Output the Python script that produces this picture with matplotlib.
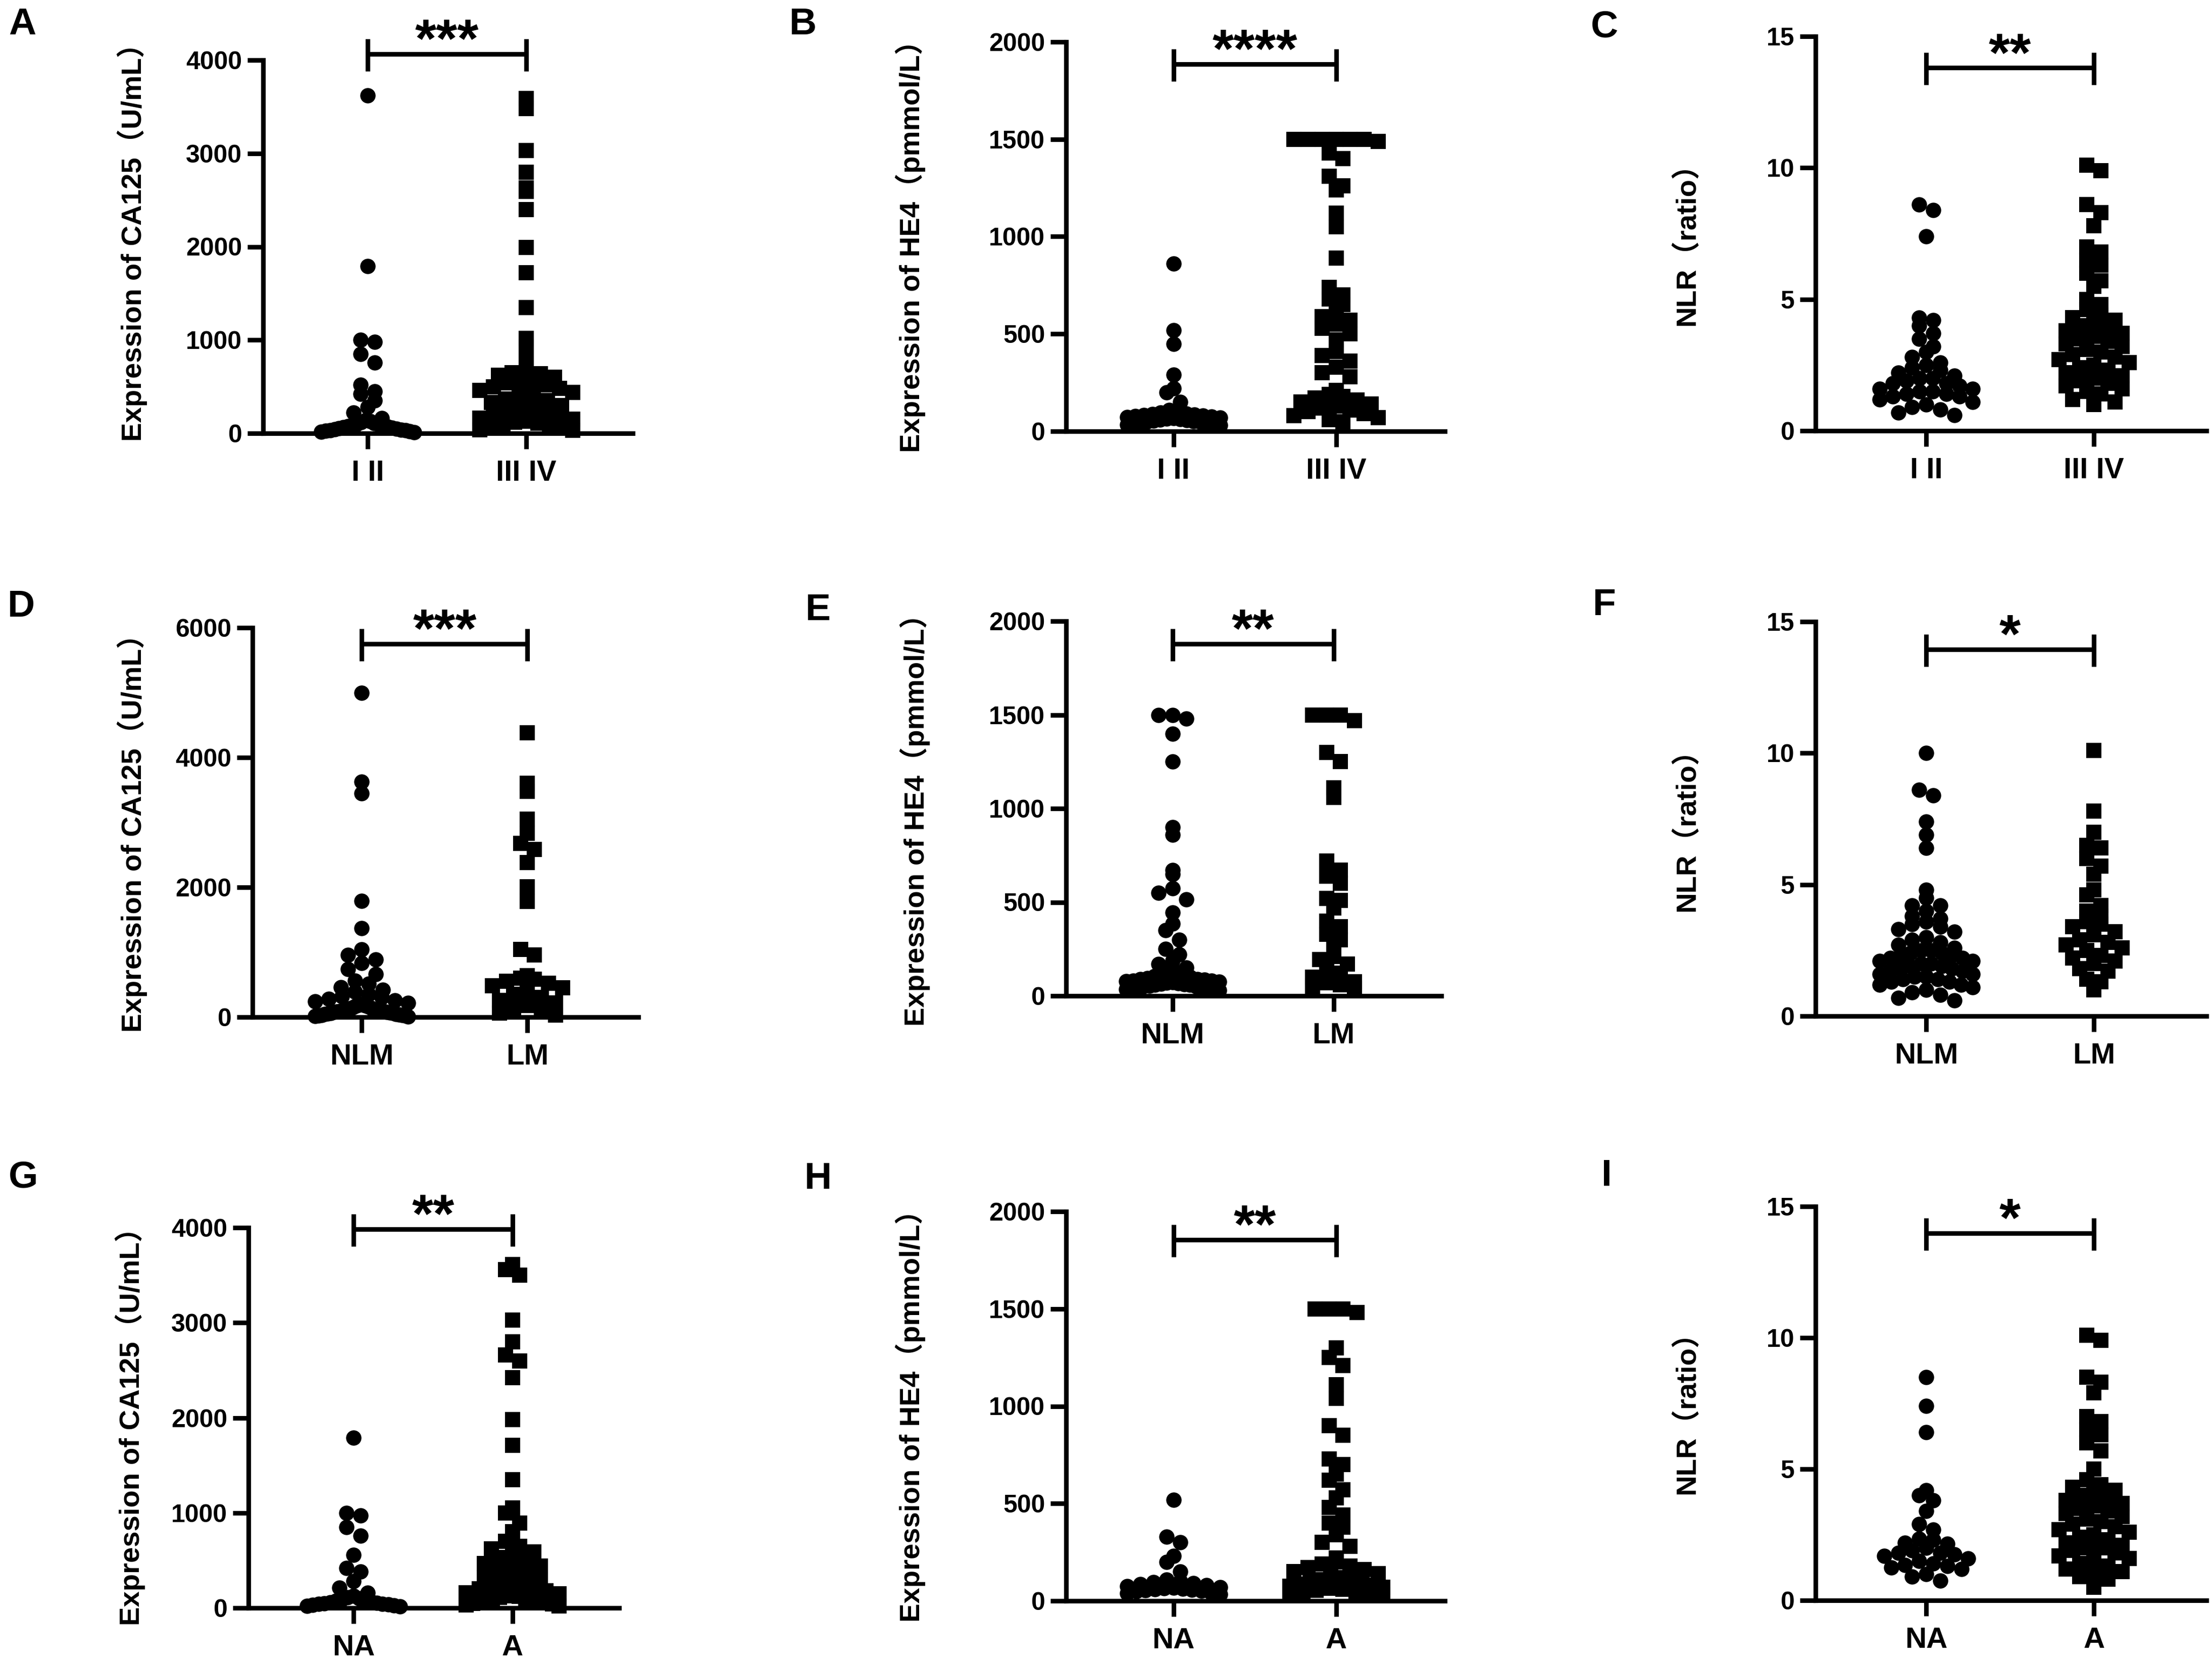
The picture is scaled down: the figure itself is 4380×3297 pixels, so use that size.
import numpy as np
import matplotlib
matplotlib.use('Agg')
import matplotlib.pyplot as plt

plt.rcParams['font.family'] = ['Liberation Sans', 'Noto Sans CJK SC']
plt.rcParams['font.weight'] = 'bold'

# ---- data ----
stage_labels = ['I II', 'III IV']
meta_labels = ['NLM', 'LM']
asc_labels = ['NA', 'A']

A_g1 = [3620, 1790, 1000, 980, 850, 760, 520, 450, 420, 350, 280, 220, 160, 140, 130, 120,
        110, 100, 95, 90, 80, 75, 70, 65, 60, 55, 50, 45, 40, 35, 30, 25, 20, 15, 10]
A_g2 = [3590, 3480, 3030, 2800, 2630, 2590, 2400, 1990, 1720, 1350, 1020, 930, 770, 700, 650,
        640, 620, 600, 580, 560, 540, 520, 500, 480, 460, 440, 420, 400, 370, 350, 330, 300,
        280, 260, 240, 220, 200, 180, 160, 150, 130, 120, 110, 100, 90, 80, 60, 40, 30]

B_g1 = [860, 520, 450, 290, 220, 200, 150, 110, 100, 95, 90, 88, 85, 82, 80, 78, 75, 72, 70,
        68, 65, 62, 60, 58, 55, 52, 50, 48, 45, 42, 40, 38, 35, 30]
B_g2 = [1500, 1500, 1500, 1500, 1500, 1500, 1490, 1430, 1400, 1310, 1260, 1240, 1120, 1050,
        890, 740, 700, 680, 650, 620, 590, 570, 550, 530, 500, 470, 410, 390, 360, 330, 300,
        280, 210, 190, 180, 170, 160, 150, 140, 130, 120, 110, 100, 90, 80, 70, 60, 50]

C_g1 = [8.6, 8.4, 7.4, 4.3, 4.2, 4.0, 3.7, 3.5, 3.2, 3.0, 2.8, 2.6, 2.5, 2.4, 2.3, 2.2, 2.1,
        2.0, 2.0, 1.9, 1.8, 1.8, 1.7, 1.6, 1.6, 1.5, 1.5, 1.4, 1.4, 1.3, 1.3, 1.2, 1.1, 1.0,
        0.9, 0.8, 0.7, 0.6]
C_g2 = [10.1, 9.9, 8.6, 8.3, 7.8, 7.0, 6.8, 6.5, 6.3, 6.0, 5.7, 5.5, 5.0, 4.8, 4.6, 4.4, 4.3,
        4.2, 4.1, 4.0, 3.9, 3.8, 3.7, 3.6, 3.5, 3.4, 3.3, 3.2, 3.1, 3.0, 2.9, 2.8, 2.7, 2.6,
        2.5, 2.4, 2.3, 2.2, 2.1, 2.0, 1.9, 1.8, 1.7, 1.6, 1.5, 1.4, 1.2, 1.1, 1.0]

D_g1 = [5000, 3630, 3450, 1790, 1370, 1040, 960, 890, 830, 740, 660, 560, 510, 460, 420, 390,
        350, 320, 300, 280, 260, 240, 220, 200, 190, 180, 170, 160, 150, 140, 130, 120, 115,
        110, 105, 100, 95, 90, 85, 80, 75, 70, 65, 60, 55, 50, 45, 40, 35, 30, 25, 20, 15, 10]
D_g2 = [4380, 3600, 3480, 3050, 2830, 2680, 2580, 2380, 2010, 1780, 1040, 960, 640, 600, 580,
        550, 520, 480, 450, 400, 350, 300, 260, 220, 180, 140, 100, 60, 30]

E_g1 = [1500, 1500, 1480, 1400, 1250, 900, 860, 670, 650, 575, 550, 515, 445, 385, 350, 300,
        250, 220, 190, 170, 150, 140, 130, 120, 110, 105, 100, 95, 90, 88, 85, 82, 80, 78, 75,
        72, 70, 68, 65, 62, 60, 58, 55, 52, 50, 48, 45, 42, 40, 38, 35, 30]
E_g2 = [1500, 1500, 1500, 1470, 1300, 1250, 1110, 1060, 720, 670, 640, 600, 520, 510, 470,
        400, 370, 330, 300, 290, 210, 195, 170, 130, 120, 100, 75, 70, 60, 50, 40]

F_g1 = [10.0, 8.6, 8.4, 7.4, 6.9, 6.4, 4.8, 4.5, 4.2, 4.2, 4.0, 3.8, 3.7, 3.6, 3.5, 3.4, 3.3,
        3.2, 3.0, 2.9, 2.8, 2.7, 2.6, 2.5, 2.5, 2.4, 2.4, 2.3, 2.3, 2.2, 2.2, 2.1, 2.1, 2.0,
        2.0, 1.9, 1.9, 1.8, 1.8, 1.7, 1.7, 1.6, 1.6, 1.5, 1.5, 1.4, 1.4, 1.3, 1.3, 1.2, 1.2,
        1.1, 1.0, 0.9, 0.8, 0.7, 0.6]
F_g2 = [10.1, 7.8, 7.0, 6.5, 6.4, 6.0, 5.7, 5.4, 4.8, 4.6, 4.2, 4.0, 3.8, 3.6, 3.5, 3.4, 3.2,
        3.1, 2.9, 2.8, 2.7, 2.6, 2.5, 2.3, 2.2, 2.1, 2.0, 1.8, 1.7, 1.4, 1.3, 1.0]

G_g1 = [1790, 1000, 970, 850, 760, 560, 420, 380, 280, 210, 160, 130, 110, 100, 90, 80, 75,
        70, 60, 55, 50, 45, 40, 35, 30, 25, 20, 15]
G_g2 = [3610, 3560, 3500, 3030, 2800, 2660, 2600, 2420, 1980, 1710, 1350, 1050, 1000, 890,
        800, 700, 650, 620, 590, 560, 530, 500, 470, 440, 410, 380, 350, 320, 300, 280, 260,
        240, 220, 200, 180, 160, 150, 140, 130, 120, 110, 100, 95, 90, 85, 80, 70, 60, 50,
        40, 30, 20]

H_g1 = [520, 330, 300, 230, 200, 150, 110, 100, 95, 90, 85, 80, 75, 70, 68, 65, 62, 60, 58,
        55, 52, 50, 45, 40, 35]
H_g2 = [1500, 1500, 1500, 1480, 1300, 1250, 1210, 1110, 1040, 900, 850, 730, 700, 650, 620,
        570, 530, 480, 440, 400, 380, 340, 300, 280, 220, 200, 190, 180, 170, 160, 150, 140,
        130, 120, 110, 100, 95, 90, 85, 80, 75, 70, 65, 60, 55, 50, 45, 40, 35, 30]

I_g1 = [8.5, 7.4, 6.4, 4.2, 4.0, 3.8, 3.4, 2.9, 2.7, 2.35, 2.3, 2.2, 2.15, 2.0, 1.9, 1.8, 1.8,
        1.75, 1.7, 1.6, 1.5, 1.4, 1.35, 1.3, 1.25, 1.2, 1.0, 0.9, 0.75]
I_g2 = [10.1, 9.9, 8.5, 8.3, 7.9, 7.0, 6.8, 6.5, 6.3, 6.0, 5.7, 5.0, 4.6, 4.4, 4.3, 4.2, 4.1,
        4.0, 3.9, 3.8, 3.7, 3.6, 3.5, 3.4, 3.3, 3.2, 3.1, 3.0, 2.9, 2.8, 2.7, 2.6, 2.5, 2.4,
        2.3, 2.2, 2.1, 2.0, 2.0, 1.9, 1.8, 1.7, 1.6, 1.5, 1.4, 1.3, 1.2, 1.1, 1.0, 0.9, 0.8,
        0.5]

ca125_label = 'Expression of CA125（U/mL）'
he4_label = 'Expression of HE4（pmmol/L）'
nlr_label = 'NLR（ratio）'

ca_ticks = [0, 1000, 2000, 3000, 4000]
ca_ticks_d = [0, 2000, 4000, 6000]
he_ticks = [0, 500, 1000, 1500, 2000]
nlr_ticks = [0, 5, 10, 15]

# letter, groups, cats, ylabel, yticks, stars, bracket height (data)
panels = [
    ('A', A_g1, A_g2, stage_labels, ca125_label, ca_ticks, '***', 4065),
    ('B', B_g1, B_g2, stage_labels, he4_label, he_ticks, '****', 1886),
    ('C', C_g1, C_g2, stage_labels, nlr_label, nlr_ticks, '**', 13.8),
    ('D', D_g1, D_g2, meta_labels, ca125_label, ca_ticks_d, '***', 5750),
    ('E', E_g1, E_g2, meta_labels, he4_label, he_ticks, '**', 1880),
    ('F', F_g1, F_g2, meta_labels, nlr_label, nlr_ticks, '*', 13.95),
    ('G', G_g1, G_g2, asc_labels, ca125_label, ca_ticks, '**', 3985),
    ('H', H_g1, H_g2, asc_labels, he4_label, he_ticks, '**', 1855),
    ('I', I_g1, I_g2, asc_labels, nlr_label, nlr_ticks, '*', 13.98),
]

# layout in output pixels: y-axis x, category spacing, top, bottom, letter xy, ylabel xy
layout = [
    (521, 314, 119, 858, (44, 48), (262, 466)),
    (2111, 322, 83, 854, (1590, 48), (1803, 474)),
    (3595, 332, 72, 853, (3177, 54), (3341, 470)),
    (500, 328, 1243, 2014, (42, 1201), (262, 1636)),
    (2111, 319, 1230, 1972, (1620, 1208), (1812, 1610)),
    (3595, 332, 1231, 2012, (3177, 1198), (3341, 1630)),
    (492, 315, 2431, 3184, (46, 2332), (258, 2811)),
    (2111, 322, 2399, 3170, (1620, 2335), (1803, 2790)),
    (3595, 332, 2389, 3169, (3181, 2329), (3341, 2784)),
]

W, H = 4380, 3297
DPI = 300
fig = plt.figure(figsize=(W / DPI, H / DPI), dpi=DPI)

LW = 2.2
MS = 6.8
ms_px = MS * DPI / 72.0
XL = (-0.66, 1.67)


def row_scatter(y_px, step, bin_h, half_max):
    # Prism-like layout: points binned into rows, each row centred on the category
    y_px = np.asarray(y_px, dtype=float)
    xs = np.zeros(len(y_px))
    bins = np.floor(y_px / bin_h).astype(int)
    for b in np.unique(bins):
        idx = np.where(bins == b)[0]
        idx = idx[np.argsort(-y_px[idx], kind='stable')]  # highest in the middle
        n = len(idx)
        if n == 1:
            continue
        s = min(step, 2 * half_max / (n - 1))
        slots = (np.arange(n) - (n - 1) / 2.0) * s
        # fill from the centre outwards, alternating sides
        order = np.argsort(np.abs(slots) + 1e-3 * slots, kind='stable')
        xs[idx] = slots[order]
    return xs


for (letter, g1, g2, cats, ylab, yticks, stars, br_y), lay in zip(panels, layout):
    yx, sp, top, bot, lxy, ylxy = lay
    wpx = sp * (XL[1] - XL[0])
    hpx = bot - top
    ax = fig.add_axes([yx / W, 1 - bot / H, wpx / W, hpx / H])
    ymax = yticks[-1]
    ax.set_xlim(*XL)
    ax.set_ylim(0, ymax)

    for k, (vals, mk) in enumerate([(g1, 'o'), (g2, 's')]):
        v = np.array(vals, dtype=float)
        ypx = v / ymax * hpx
        off = row_scatter(ypx, ms_px * 0.98, ms_px * 0.95, 92)
        x = k + off / wpx * (XL[1] - XL[0])
        ax.plot(x, v, linestyle='none', marker=mk, ms=MS, color='black',
                mec='black', mew=0.5, clip_on=False, zorder=3)

    for s in ['top', 'right']:
        ax.spines[s].set_visible(False)
    for s in ['left', 'bottom']:
        ax.spines[s].set_linewidth(LW)
    ax.set_xticks([0, 1])
    ax.set_xticklabels(cats, fontsize=14, fontweight='bold')
    ax.set_yticks(yticks)
    ax.set_yticklabels([str(t) for t in yticks], fontsize=12, fontweight='bold')
    ax.tick_params(axis='both', width=LW, length=7.5)
    ax.tick_params(axis='y', pad=2.5)
    ax.tick_params(axis='x', pad=5)

    # significance bracket
    up = 30 / hpx * ymax
    dn = 34 / hpx * ymax
    ax.plot([0, 1], [br_y, br_y], color='black', lw=LW, clip_on=False,
            solid_capstyle='butt')
    for xc in (0, 1):
        ax.plot([xc, xc], [br_y - dn, br_y + up], color='black', lw=LW,
                clip_on=False, solid_capstyle='butt')
    ax.text(0.5, br_y - 6 / hpx * ymax, stars, ha='center', va='baseline',
            fontsize=26, fontweight='bold')

    fig.text(lxy[0] / W, 1 - lxy[1] / H, letter, ha='center', va='center',
             fontsize=18, fontweight='bold')
    fig.text(ylxy[0] / W, 1 - ylxy[1] / H, ylab, ha='center', va='center',
             rotation=90, fontsize=13.5, fontweight='bold')

fig.savefig('out.png', dpi=DPI)
